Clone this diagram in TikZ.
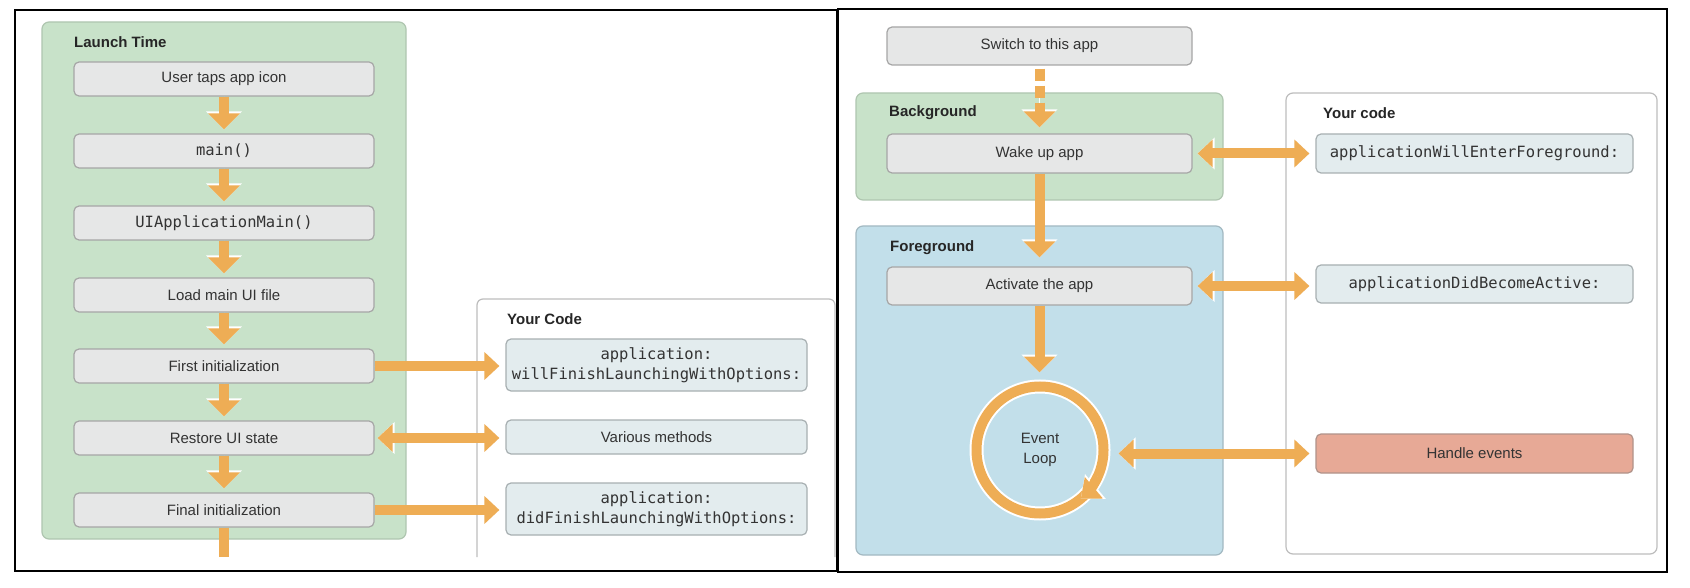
\documentclass[tikz,border=0pt]{standalone}
\usepackage{fontspec}
\setmainfont{Liberation Sans}
\setsansfont{Liberation Sans}
\setmonofont{DejaVu Sans Mono}
\usetikzlibrary{arrows.meta}
\definecolor{arr}{HTML}{EEAD55}
\definecolor{gfill}{HTML}{E6E7E7}
\definecolor{gline}{HTML}{A6A6A6}
\definecolor{grn}{HTML}{C8E2C9}
\definecolor{grnline}{HTML}{AFC6B0}
\definecolor{blu}{HTML}{C2DFEA}
\definecolor{bluline}{HTML}{A3B9C2}
\definecolor{cfill}{HTML}{E3ECEE}
\definecolor{cline}{HTML}{A8B0B2}
\definecolor{salm}{HTML}{E7A996}
\definecolor{salmline}{HTML}{B0938A}
\definecolor{panel}{HTML}{BDBDBD}
\definecolor{txt}{HTML}{333333}
\begin{document}
\begin{tikzpicture}[x=1pt,y=-1pt,
  every node/.style={text=txt},
  sansf/.style={font=\sffamily\fontsize{15}{20}\selectfont},
  monof/.style={font=\ttfamily\fontsize{15.5}{20.5}\selectfont},
  stepbox/.style={draw=gline, fill=gfill, line width=1.2pt, rounded corners=5pt,
    minimum width=300pt, minimum height=34pt, inner sep=0pt, sansf},
  codebox/.style={stepbox, draw=cline, fill=cfill, monof, align=center},
  group/.style={line width=1.2pt, rounded corners=7pt, inner sep=0pt},
  title/.style={anchor=west, inner sep=0pt, text=black!85,
    font=\sffamily\bfseries\fontsize{15}{18}\selectfont},
  flow/.style={draw=arr, line width=10pt, -{Triangle[width=31pt,length=16pt]},
    preaction={draw=white, -{Triangle[width=35pt,length=18pt]}}},
  hflow/.style={draw=arr, line width=10pt, -{Triangle[width=27pt,length=15pt]},
    preaction={draw=white, -{Triangle[width=31pt,length=17pt]}}},
  hbiflow/.style={draw=arr, line width=10pt,
    {Triangle[width=27pt,length=15pt]}-{Triangle[width=27pt,length=15pt]},
    preaction={draw=white, {Triangle[width=31pt,length=17pt]}-{Triangle[width=31pt,length=17pt]}}},
  dashflow/.style={flow, dash pattern=on 12pt off 5pt},
  loopnode/.style={circle, draw=arr, line width=10pt, minimum size=127pt,
    inner sep=0pt, align=center, sansf, preaction={draw=white, line width=14pt}},
  ringtip/.style={draw=arr, line width=10pt, -{Triangle[width=27pt,length=17pt]},
    preaction={draw=white, -{Triangle[width=31pt,length=19pt]}}},
  frame/.style={draw=black, line width=1.3pt}
]
\useasboundingbox (0,0) rectangle (1690,588);
\fill[white] (0,0) rectangle (1690,588);

% ---------- left panel ----------
\draw[frame] (15,10) rectangle (837,571);
\node[group, draw=grnline, fill=grn, minimum width=364pt, minimum height=517pt] (launch) at (224,280.5) {};
\node[title] (lt) at (74,42) {Launch Time};

\draw[draw=panel, line width=1.2pt, rounded corners=6pt] (477,557) -- (477,299) -- (835,299) -- (835,557);
\node[title] (yc1) at (507,319) {Your Code};

\node[stepbox] (tap) at (224,79) {User taps app icon};
\node[stepbox, monof] (main) at (224,151) {main()};
\node[stepbox, monof] (uiam) at (224,223) {UIApplicationMain()};
\node[stepbox] (load) at (224,295) {Load main UI file};
\node[stepbox] (first) at (224,366) {First initialization};
\node[stepbox] (restore) at (224,438) {Restore UI state};
\node[stepbox] (final) at (224,510) {Final initialization};

\node[codebox, minimum width=301pt, minimum height=52pt] (will) at (656.5,365) {application:\\willFinishLaunchingWithOptions:};
\node[codebox, sansf, minimum width=301pt] (various) at (656.5,437) {Various methods};
\node[codebox, minimum width=301pt, minimum height=52pt] (did) at (656.5,509) {application:\\didFinishLaunchingWithOptions:};

\draw[flow, shorten >=4pt] (tap) -- (main);
\draw[flow, shorten >=4pt] (main) -- (uiam);
\draw[flow, shorten >=4pt] (uiam) -- (load);
\draw[flow, shorten >=4pt] (load) -- (first);
\draw[flow, shorten >=4pt] (first) -- (restore);
\draw[flow, shorten >=4pt] (restore) -- (final);
\coordinate (exit) at (224,557);
\draw[draw=arr, line width=10pt] (final) -- (exit);

\draw[hflow, shorten >=6pt] (first.east) -- (first.east -| will.west);
\draw[hbiflow, shorten <=3pt, shorten >=6pt] (restore.east) -- (restore.east -| various.west);
\draw[hflow, shorten >=6pt] (final.east) -- (final.east -| did.west);

% ---------- right panel ----------
\draw[frame] (838,9) rectangle (1667,572);
\node[group, draw=grnline, fill=grn, minimum width=367pt, minimum height=107pt] (bg) at (1039.5,146.5) {};
\node[title] (bgt) at (889,113) {Background};
\node[group, draw=bluline, fill=blu, minimum width=367pt, minimum height=329pt] (fg) at (1039.5,390.5) {};
\node[title] (fgt) at (890,248) {Foreground};
\node[group, draw=panel, fill=white, minimum width=371pt, minimum height=461pt] (yc2) at (1471.5,323.5) {};
\node[title] (yct) at (1323,113) {Your code};

\node[stepbox, minimum width=305pt, minimum height=38pt] (switch) at (1039.5,46) {Switch to this app};
\node[stepbox, minimum width=305pt, minimum height=39pt] (wake) at (1039.5,153.5) {Wake up app};
\node[stepbox, minimum width=305pt, minimum height=38pt] (activate) at (1039.5,286) {Activate the app};
\node[loopnode] (loop) at (1040,450) {Event\\Loop};

\node[codebox, minimum width=317pt, minimum height=39pt] (wef) at (1474.5,153.5) {applicationWillEnterForeground:};
\node[codebox, minimum width=317pt, minimum height=38pt] (dba) at (1474.5,284) {applicationDidBecomeActive:};
\node[stepbox, draw=salmline, fill=salm, minimum width=317pt, minimum height=39pt] (handle) at (1474.5,453.5) {Handle events};

\draw[dashflow, shorten <=3pt, shorten >=6pt] (switch) -- (wake);
\draw[flow, shorten >=9pt] (wake) -- (activate);
\draw[flow, shorten >=9pt] (activate.south) -- (activate.south |- loop.north);
\draw[ringtip] (loop.center) ++(-25:63.5pt) arc[start angle=-25, end angle=-50, radius=63.5pt];

\draw[hbiflow, shorten <=5pt, shorten >=6pt] (wake.east) -- (wake.east -| wef.west);
\draw[hbiflow, shorten <=5pt, shorten >=6pt] (activate.east) -- (activate.east -| dba.west);
\draw[hbiflow, shorten <=10pt, shorten >=6pt] (handle.west -| loop.east) -- (handle.west);
\end{tikzpicture}
\end{document}
